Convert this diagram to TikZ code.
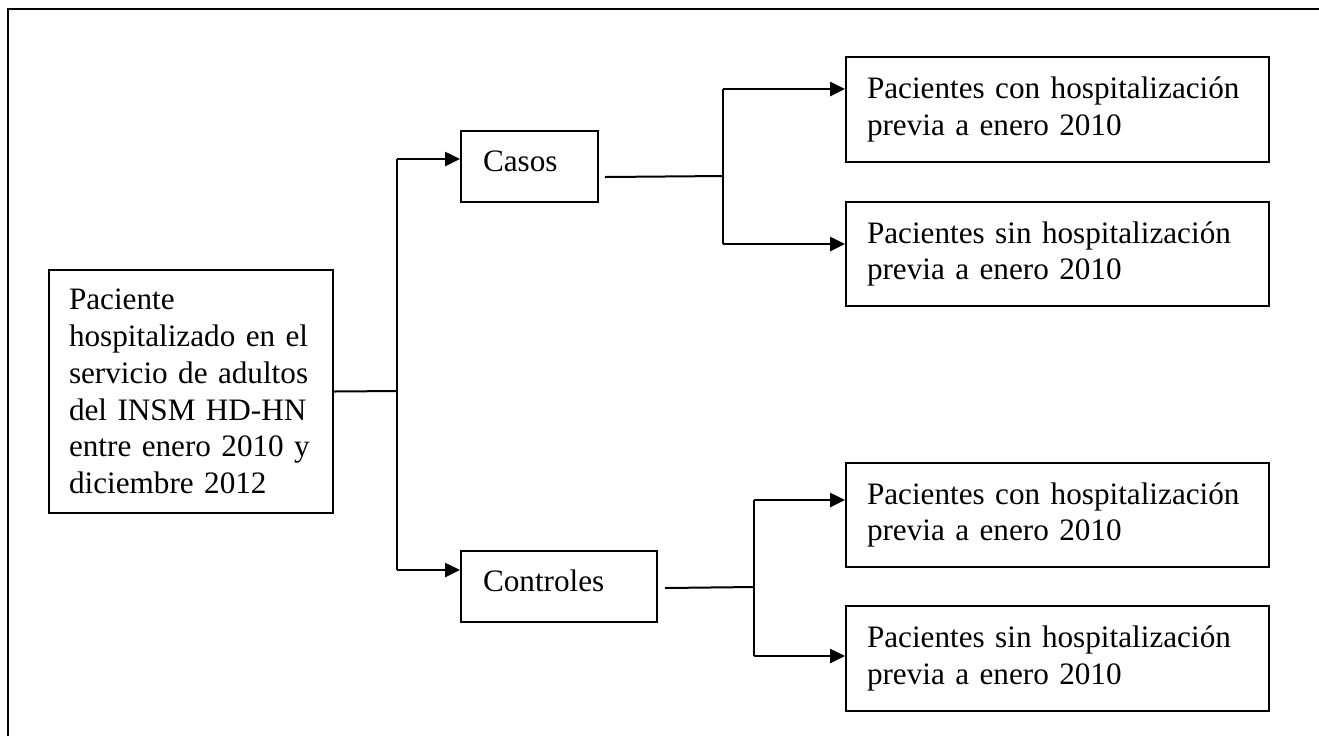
\documentclass[tikz,border=0pt]{standalone}
\usepackage{fontspec}
\setmainfont{Liberation Serif}
\usetikzlibrary{arrows.meta}
\tikzset{
  boxbase/.style={draw, line width=1pt, anchor=north west, align=left,
    font=\fontsize{15.6pt}{18.35pt}\selectfont, inner ysep=0pt},
  bigbox/.style={boxbase, text width=190.5pt, inner xsep=10.5pt,
    minimum height=#1},
  leftbox/.style={boxbase, text width=122pt, inner xsep=10pt,
    minimum height=121.5pt},
  midbox/.style={boxbase, text width=#1, inner xsep=11pt,
    minimum height=35.5pt, text height=11pt, text depth=6pt},
  conn/.style={line width=1pt},
  arr/.style={line width=1.3pt, -{Triangle[length=7.5pt,width=7pt]}},
  frame/.style={line width=1pt}
}
\begin{document}
\begin{tikzpicture}[x=0.5pt,y=-0.5pt]
\useasboundingbox (0,0) rectangle (1319,736);
\draw[frame] (8,736) -- (8,9) -- (1319,9);

\node[leftbox] (L) at (48,269) {Paciente\\hospitalizado en el\\servicio de adultos\\del INSM HD-HN\\entre enero 2010 y\\diciembre 2012};
\node[midbox=46.5pt] (casos) at (460,130) {Casos};
\node[midbox=76pt] (ctrl) at (460,550) {Controles};

\node[bigbox=52.5pt] (b1) at (845,56) {Pacientes con hospitalización\\previa a enero 2010};
\node[bigbox=52pt] (b2) at (845,201) {Pacientes sin hospitalización\\previa a enero 2010};
\node[bigbox=52pt] (b3) at (845,462) {Pacientes con hospitalización\\previa a enero 2010};
\node[bigbox=52.5pt] (b4) at (845,605) {Pacientes sin hospitalización\\previa a enero 2010};

\coordinate (j1) at (397,391);
\coordinate (j2) at (723,176);
\coordinate (j3) at (754,587);

% arrow end points on the boxes
\coordinate (eC) at ([yshift=3.75pt]casos.west);
\coordinate (eK) at ([yshift=8.25pt]ctrl.west);
\coordinate (e1) at ([yshift=10.25pt]b1.west);
\coordinate (e2) at ([yshift=5pt]b2.west);
\coordinate (e3) at ([yshift=7.5pt]b3.west);
\coordinate (e4) at ([yshift=1.25pt]b4.west);
% line start points after the middle boxes
\coordinate (sC) at ([shift={(3pt,-5.25pt)}]casos.east);
\coordinate (sK) at ([shift={(3.5pt,-0.75pt)}]ctrl.east);

\draw[conn] (L.east) -- (j1);
\draw[conn] (j1 |- eC) -- (j1 |- eK);
\draw[arr] (j1 |- eC) -- (eC);
\draw[arr] (j1 |- eK) -- (eK);

\draw[conn] (sC) -- (j2);
\draw[conn] (j2 |- e1) -- (j2 |- e2);
\draw[arr] (j2 |- e1) -- (e1);
\draw[arr] (j2 |- e2) -- (e2);

\draw[conn] (sK) -- (j3);
\draw[conn] (j3 |- e3) -- (j3 |- e4);
\draw[arr] (j3 |- e3) -- (e3);
\draw[arr] (j3 |- e4) -- (e4);
\end{tikzpicture}
\end{document}
